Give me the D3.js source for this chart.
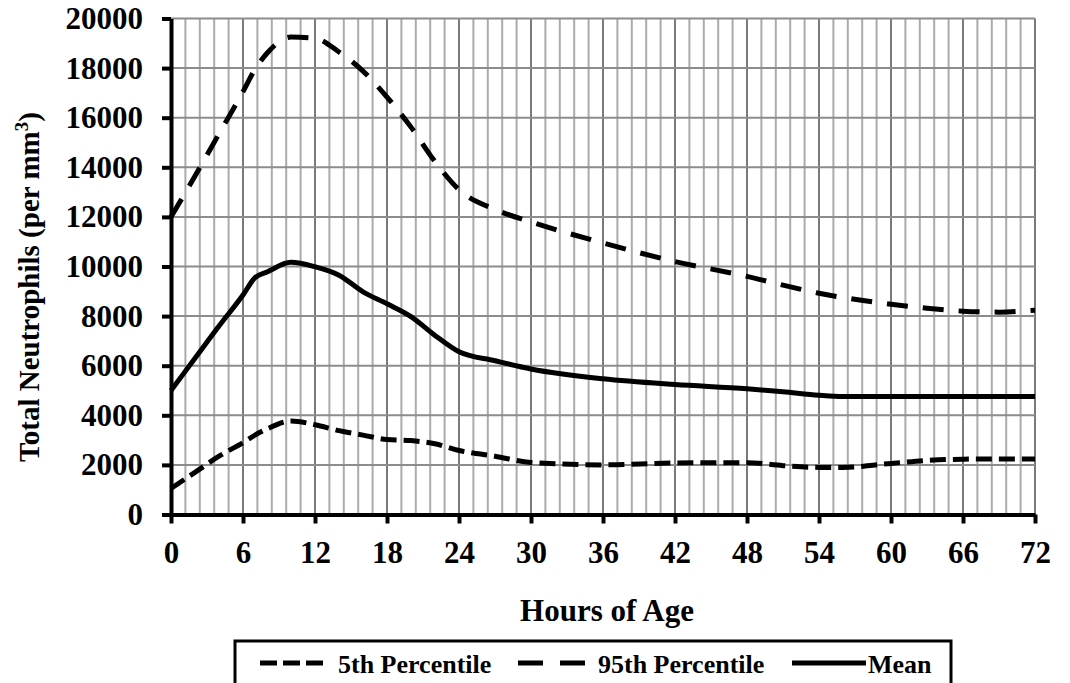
<!DOCTYPE html>
<html>
<head>
<meta charset="utf-8">
<script src="https://cdn.jsdelivr.net/npm/d3@7"></script>
<style>
  body { margin: 0; background: #fff; }
  svg { display: block; font-family: "Liberation Serif", "Times New Roman", serif; font-weight: bold; }
</style>
</head>
<body>
<svg width="1070" height="683"></svg>
<script>
// neutrophil reference ranges over the first 72 hours
const hours  = [0, 2, 4, 6, 7, 8, 10, 12, 14, 16, 18, 20, 22, 24, 27, 30, 36, 42, 48, 51, 54, 56, 60, 63, 66, 69, 72]
const p5     = [1050, 1700, 2350, 2900, 3200, 3450, 3770, 3620, 3380, 3200, 3020, 2980, 2850, 2580, 2350, 2100, 2000, 2080, 2090, 1970, 1900, 1900, 2060, 2180, 2230, 2240, 2240]
const p95    = [12000, 13650, 15350, 17050, 17950, 18600, 19250, 19200, 18650, 17880, 16830, 15620, 14230, 13100, 12300, 11800, 10950, 10200, 9600, 9250, 8920, 8750, 8480, 8320, 8200, 8160, 8240]
const mean   = [5000, 6300, 7600, 8850, 9550, 9780, 10170, 9990, 9650, 8980, 8500, 7980, 7220, 6560, 6200, 5870, 5470, 5240, 5070, 4950, 4810, 4760, 4760, 4760, 4760, 4760, 4760]
const xTicks = [0, 6, 12, 18, 24, 30, 36, 42, 48, 54, 60, 66, 72]
const yTicks = [0, 2000, 4000, 6000, 8000, 10000, 12000, 14000, 16000, 18000, 20000]
const seriesNames = ["5th Percentile", "95th Percentile", "Mean"]

const svg = d3.select("svg")
const plot = { left: 171, right: 1035, top: 18.5, bottom: 514.5 }

const x = d3.scaleLinear().domain([0, 72]).range([plot.left, plot.right])
const y = d3.scaleLinear().domain([0, 20000]).range([plot.bottom, plot.top])

// grid: minor verticals every 1.2 h, darker every 6 h, horizontals every 2000
const grid = svg.append("g")
d3.range(0, 61).forEach(i => {
  const h = i * 1.2
  grid.append("line")
    .attr("x1", x(h)).attr("x2", x(h))
    .attr("y1", y(0)).attr("y2", y(20000))
    .attr("stroke", i % 5 === 0 ? "#7a7a7a" : "#ababab")
    .attr("stroke-width", 2)
})
yTicks.forEach(v => {
  grid.append("line")
    .attr("x1", x(0)).attr("x2", x(72))
    .attr("y1", y(v)).attr("y2", y(v))
    .attr("stroke", "#8c8c8c")
    .attr("stroke-width", 2)
})

// series lines
const rows = hours.map((h, i) => ({ h, p5: p5[i], p95: p95[i], mean: mean[i] }))
const styles = [
  { key: "p5",   dash: "16,7",  legendDash: "17,6" },
  { key: "p95",  dash: "21,15", legendDash: "25,17" },
  { key: "mean", dash: null,    legendDash: null }
]
styles.forEach(s => {
  const line = d3.line()
    .x(d => x(d.h))
    .y(d => y(d[s.key]))
    .curve(d3.curveMonotoneX)
  svg.append("path")
    .datum(rows)
    .attr("d", line)
    .attr("fill", "none")
    .attr("stroke", "#000")
    .attr("stroke-width", 5)
    .attr("stroke-dasharray", s.dash)
})

// axes
const yAxis = svg.append("g")
  .attr("transform", `translate(${plot.left},0)`)
  .call(d3.axisLeft(y).tickValues(yTicks).tickSize(9).tickSizeOuter(0).tickPadding(19).tickFormat(d3.format("d")))
const xAxis = svg.append("g")
  .attr("transform", `translate(0,${plot.bottom})`)
  .call(d3.axisBottom(x).tickValues(xTicks).tickSize(9).tickSizeOuter(0).tickPadding(17).tickFormat(d3.format("d")))

;[yAxis, xAxis].forEach(a => {
  a.select(".domain").attr("stroke", "#000").attr("stroke-width", 4)
  a.selectAll(".tick line").attr("stroke", "#000").attr("stroke-width", 4)
  a.selectAll(".tick text")
    .attr("fill", "#000")
    .style("font-family", "Liberation Serif, serif")
    .style("font-weight", "bold")
    .style("font-size", "31px")
})

// axis titles
svg.append("text")
  .attr("x", 607).attr("y", 621)
  .attr("text-anchor", "middle")
  .style("font-size", "31px")
  .text("Hours of Age")

const yTitle = svg.append("text")
  .attr("transform", "translate(39,287) rotate(-90)")
  .attr("text-anchor", "middle")
  .style("font-size", "29px")
yTitle.append("tspan").text("Total Neutrophils (per mm")
yTitle.append("tspan").attr("dy", -11).style("font-size", "19px").text("3")
yTitle.append("tspan").attr("dy", 11).text(")")

// legend
const legend = svg.append("g")
legend.append("rect")
  .attr("x", 235).attr("y", 641)
  .attr("width", 716).attr("height", 60)
  .attr("fill", "#fff")
  .attr("stroke", "#000")
  .attr("stroke-width", 3)

const legendItems = [
  { x0: 260, x1: 323, tx: 338 },
  { x0: 518, x1: 585, tx: 598 },
  { x0: 792, x1: 866, tx: 868 }
]
legendItems.forEach((it, i) => {
  legend.append("line")
    .attr("x1", it.x0).attr("x2", it.x1)
    .attr("y1", 663).attr("y2", 663)
    .attr("stroke", "#000")
    .attr("stroke-width", 5)
    .attr("stroke-dasharray", styles[i].legendDash)
  legend.append("text")
    .attr("x", it.tx).attr("y", 673)
    .style("font-size", "26px")
    .text(seriesNames[i])
})
</script>
</body>
</html>
